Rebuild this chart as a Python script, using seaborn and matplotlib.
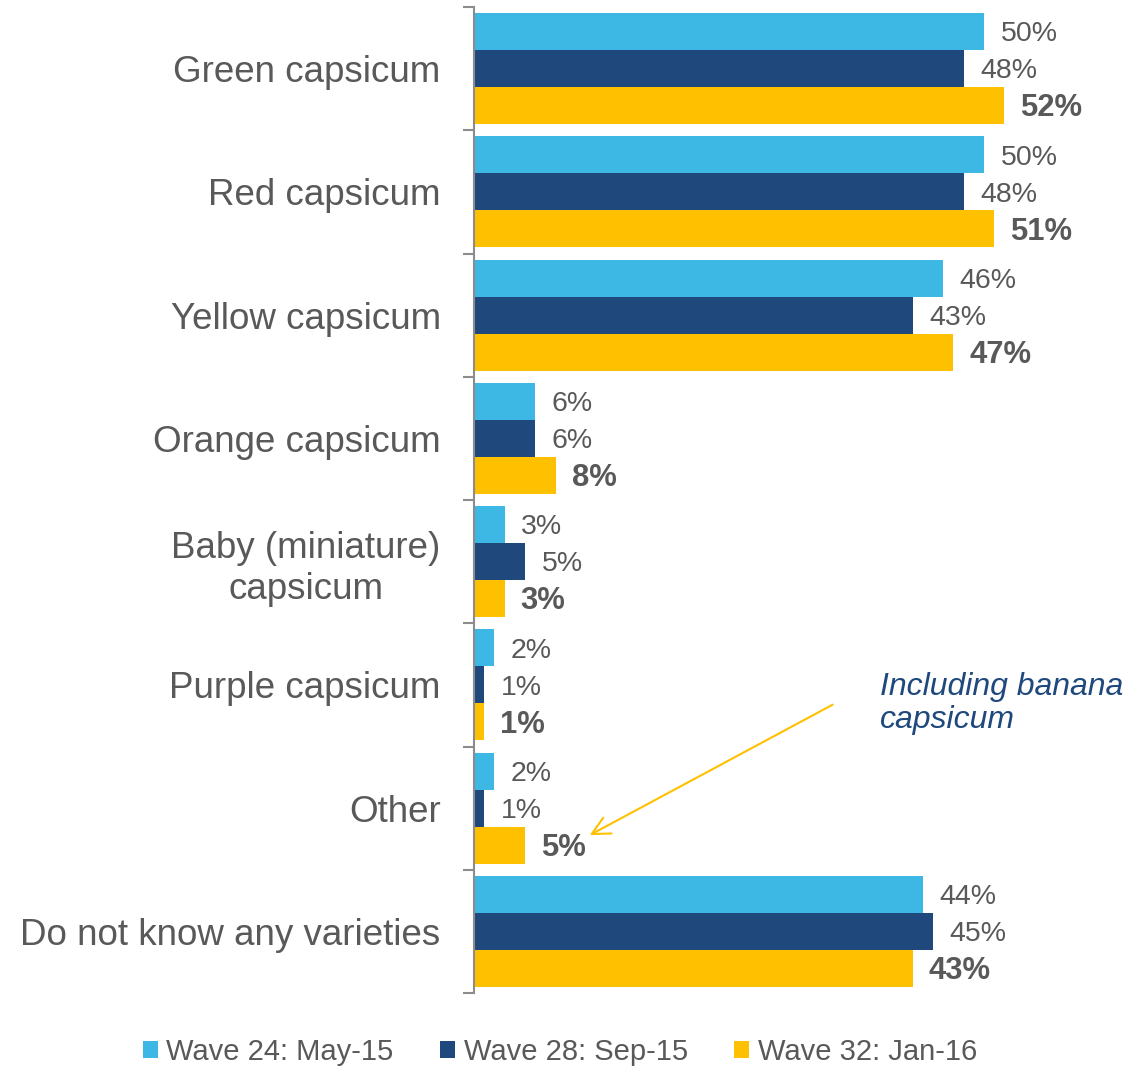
import matplotlib
matplotlib.use("Agg")
import matplotlib.pyplot as plt
import seaborn as sns
import pandas as pd
import numpy as np

# Awareness of capsicum varieties, by survey wave (%)
categories = [
    "Green capsicum",
    "Red capsicum",
    "Yellow capsicum",
    "Orange capsicum",
    "Baby (miniature)\ncapsicum",
    "Purple capsicum",
    "Other",
    "Do not know any varieties",
]
waves = ["Wave 24: May-15", "Wave 28: Sep-15", "Wave 32: Jan-16"]
wave24 = [50, 50, 46, 6, 3, 2, 2, 44]
wave28 = [48, 48, 43, 6, 5, 1, 1, 45]
wave32 = [52, 51, 47, 8, 3, 1, 5, 43]
colors = ["#3DB7E4", "#1F497D", "#FFC000"]
note_text = "Including banana\ncapsicum"

df = pd.DataFrame({
    "category": categories * 3,
    "wave": [w for w in waves for _ in categories],
    "value": wave24 + wave28 + wave32,
})

sns.set_theme(style="white")
plt.rcParams["font.family"] = ["Liberation Sans", "DejaVu Sans"]
TEXT = "#595959"

W, H = 1138, 1066
fig = plt.figure(figsize=(W / 100, H / 100), dpi=100)
ax = fig.add_axes([474 / W, 1 - 993 / H, 612 / W, 986 / H])

sns.barplot(data=df, y="category", x="value", hue="wave", orient="h",
            palette=colors, width=0.9, ax=ax, order=categories,
            hue_order=waves, linewidth=0, saturation=1, legend=True)

ax.set_xlim(0, 60)
ax.set_ylim(len(categories) - 0.5, -0.5)
ax.set_xlabel("")
ax.set_ylabel("")

# value labels; latest wave in bold
for i, cont in enumerate(ax.containers):
    vals = [wave24, wave28, wave32][i]
    bold = i == 2
    anns = ax.bar_label(cont, labels=[f"{v}%" for v in vals],
                        padding=11.5 if bold else 12,
                        fontsize=22.3 if bold else 20.5, color=TEXT,
                        fontweight="bold" if bold else "normal")
    for a in anns:
        a.xyann = (a.xyann[0], -2)

# axis styling: category labels at centres, ticks at boundaries
ax.set_xticks([])
ax.set_yticks(np.arange(len(categories)))
ax.set_yticklabels(categories, fontsize=26.5, color=TEXT)
for lab in ax.get_yticklabels():
    lab.set_multialignment("center")
    lab.set_linespacing(1.22)
ax.tick_params(axis="y", which="major", length=0, pad=24)
ax.set_yticks(np.arange(len(categories) + 1) - 0.5, minor=True)
ax.tick_params(axis="y", which="minor", length=8, width=1.5,
               color="#8C8C8C", left=True)
for s in ["top", "right", "bottom"]:
    ax.spines[s].set_visible(False)
ax.spines["left"].set_color("#8C8C8C")
ax.spines["left"].set_linewidth(1.5)

# callout for the "Other" category
ax.annotate("", xy=(11.1, 6.23), xytext=(35.4, 5.15),
            arrowprops=dict(arrowstyle="->", color="#FFC000", lw=1.5,
                            mutation_scale=32),
            annotation_clip=False)
ax.text(39.8, 5.15, note_text, fontsize=23, style="italic",
        color="#1F497D", ha="left", va="center", linespacing=1.15)

# legend along the bottom
handles, labels = ax.get_legend_handles_labels()
ax.get_legend().remove()
fig.legend(handles, labels, loc="center", ncol=3, frameon=False,
           bbox_to_anchor=(560 / W, 1 - 1052 / H), fontsize=21,
           labelcolor=TEXT, handlelength=0.5, handleheight=0.5,
           handletextpad=0.3, columnspacing=1.6)

fig.savefig("out.png", dpi=100)
